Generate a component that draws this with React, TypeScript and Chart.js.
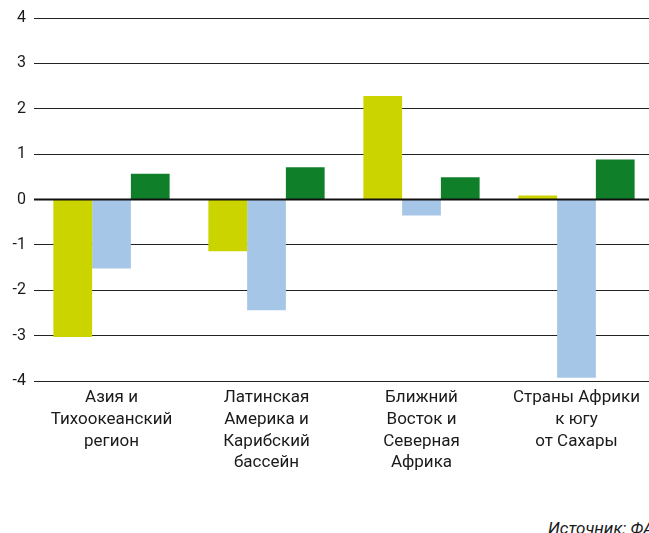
import React, { useEffect, useRef } from "react";
import { Chart, registerables } from "chart.js";

Chart.register(...registerables);

const categories: string[][] = [
  ["Азия и", "Тихоокеанский", "регион"],
  ["Латинская", "Америка и", "Карибский", "бассейн"],
  ["Ближний", "Восток и", "Северная", "Африка"],
  ["Страны Африки", "к югу", "от Сахары"],
];

const seriesA: number[] = [-3.03, -1.14, 2.28, 0.09];
const seriesB: number[] = [-1.52, -2.44, -0.35, -3.93];
const seriesC: number[] = [0.57, 0.71, 0.49, 0.88];

const yMin = -4;
const yMax = 4;
const sourceText = "Источник: ФАО.";

const zeroLinePlugin = {
  id: "zeroLine",
  afterDatasetsDraw(chart: any) {
    const y = chart.scales.y.getPixelForValue(0);
    const { left, right } = chart.chartArea;
    const ctx = chart.ctx;
    ctx.save();
    ctx.strokeStyle = "#111";
    ctx.lineWidth = 2;
    ctx.beginPath();
    ctx.moveTo(left, y);
    ctx.lineTo(right, y);
    ctx.stroke();
    ctx.restore();
  },
};

export default function App() {
  const ref = useRef<HTMLCanvasElement>(null);
  useEffect(() => {
    if (!ref.current) return;
    const chart = new Chart(ref.current, {
      type: "bar",
      data: {
        labels: categories,
        datasets: [
          { label: "A", data: seriesA, backgroundColor: "#CCD400" },
          { label: "B", data: seriesB, backgroundColor: "#A6C6E7" },
          { label: "C", data: seriesC, backgroundColor: "#107F29" },
        ],
      },
      options: {
        animation: false,
        responsive: true,
        maintainAspectRatio: false,
        layout: { padding: { top: 18, right: 6, left: 0, bottom: 0 } },
        datasets: { bar: { categoryPercentage: 0.75, barPercentage: 1 } },
        plugins: { legend: { display: false }, tooltip: { enabled: false } },
        scales: {
          x: {
            grid: { display: false, drawTicks: false },
            border: { display: false },
            ticks: {
              color: "#1a1a1a",
              font: { family: "Roboto", size: 17, lineHeight: 1.28 },
              padding: 6,
              maxRotation: 0,
              autoSkip: false,
            },
            afterFit: (s: any) => {
              s.height = 109;
            },
          },
          y: {
            min: yMin,
            max: yMax,
            border: { display: false },
            grid: { color: "#222", lineWidth: 1, drawTicks: false },
            ticks: {
              stepSize: 1,
              color: "#1a1a1a",
              font: { family: "Roboto", size: 16 },
              padding: 8,
            },
            afterFit: (s: any) => {
              s.width = 34;
            },
          },
        },
      },
      plugins: [zeroLinePlugin],
    });
    return () => chart.destroy();
  }, []);

  return (
    <div
      style={{
        position: "fixed",
        left: 0,
        top: 0,
        width: 649,
        height: 533,
        overflow: "hidden",
        background: "#fff",
      }}
    >
      <div style={{ position: "absolute", left: 0, top: 0, width: 660, height: 490 }}>
        <canvas ref={ref} />
      </div>
      <div
        style={{
          position: "absolute",
          left: 548,
          top: 518,
          whiteSpace: "nowrap",
          fontFamily: "Roboto",
          fontStyle: "italic",
          fontSize: 17,
          lineHeight: "20px",
          color: "#1a1a1a",
        }}
      >
        {sourceText}
      </div>
    </div>
  );
}
